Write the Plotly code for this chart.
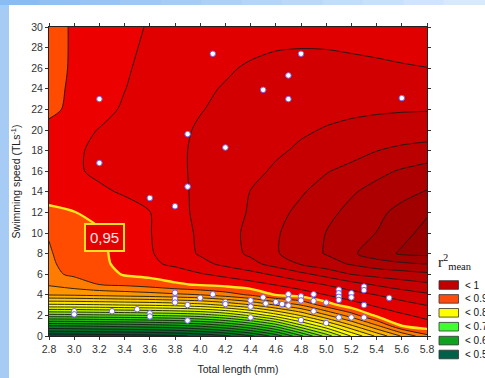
import numpy as np
import plotly.graph_objects as go

# ---------------- data ----------------
total_length_mm = [2.8, 3.0, 3.2, 3.4, 3.6, 3.8, 4.0, 4.2, 4.4, 4.6, 4.8, 5.0, 5.2, 5.4, 5.6, 5.8]
swimming_speed = [0, 1, 2, 3, 4, 5, 6, 7, 8, 10, 12, 14, 16, 18, 20, 22, 24, 26, 28, 30]

# r2 mean, one row per swimming speed, one column per total length
r2_mean = [
    [0.505, 0.508, 0.510, 0.512, 0.515, 0.520, 0.530, 0.545, 0.570, 0.610, 0.670, 0.735, 0.802, 0.855, 0.902, 0.935],
    [0.6005, 0.6023, 0.6057, 0.6091, 0.6136, 0.6200, 0.6301, 0.6474, 0.6737, 0.7105, 0.7682, 0.8192, 0.8714, 0.9171, 0.9501, 0.9528],
    [0.7143, 0.7163, 0.7194, 0.7217, 0.7255, 0.7298, 0.7368, 0.7526, 0.7789, 0.8130, 0.8520, 0.8962, 0.9300, 0.9510, 0.9542, 0.9564],
    [0.8183, 0.8195, 0.8217, 0.8248, 0.8273, 0.8321, 0.8392, 0.8534, 0.8727, 0.9005, 0.9202, 0.9450, 0.9528, 0.9558, 0.9581, 0.9601],
    [0.9013, 0.9030, 0.9057, 0.9086, 0.9114, 0.9156, 0.9201, 0.9300, 0.9414, 0.9502, 0.9521, 0.9551, 0.9577, 0.9601, 0.9624, 0.9642],
    [0.9225, 0.9313, 0.9401, 0.9420, 0.9447, 0.9485, 0.9506, 0.9517, 0.9532, 0.9553, 0.9578, 0.9603, 0.9631, 0.9656, 0.9675, 0.9690],
    [0.9360, 0.9415, 0.9440, 0.9506, 0.9515, 0.9530, 0.9546, 0.9563, 0.9583, 0.9609, 0.9638, 0.9668, 0.9701, 0.9717, 0.9729, 0.9740],
    [0.9375, 0.9430, 0.9468, 0.9520, 0.9542, 0.9558, 0.9585, 0.9612, 0.9636, 0.9668, 0.9704, 0.9729, 0.9755, 0.9778, 0.9790, 0.9801],
    [0.9385, 0.9440, 0.9480, 0.9518, 0.9545, 0.9575, 0.9605, 0.9630, 0.9658, 0.9695, 0.9727, 0.9753, 0.9792, 0.9825, 0.9857, 0.9862],
    [0.9405, 0.9467, 0.9488, 0.9515, 0.9548, 0.9578, 0.9608, 0.9632, 0.9662, 0.9695, 0.9722, 0.9751, 0.9773, 0.9801, 0.9835, 0.9865],
    [0.9470, 0.9497, 0.9515, 0.9535, 0.9549, 0.9583, 0.9612, 0.9632, 0.9654, 0.9685, 0.9712, 0.9738, 0.9762, 0.9788, 0.9815, 0.9845],
    [0.9528, 0.9538, 0.9544, 0.9554, 0.9567, 0.9585, 0.9612, 0.9632, 0.9651, 0.9670, 0.9695, 0.9720, 0.9745, 0.9765, 0.9785, 0.9803],
    [0.9535, 0.9545, 0.9557, 0.9568, 0.9580, 0.9593, 0.9607, 0.9620, 0.9637, 0.9657, 0.9678, 0.9697, 0.9714, 0.9738, 0.9755, 0.9768],
    [0.9533, 0.9545, 0.9557, 0.9569, 0.9580, 0.9593, 0.9607, 0.9619, 0.9630, 0.9643, 0.9657, 0.9669, 0.9682, 0.9699, 0.9712, 0.9722],
    [0.9515, 0.9535, 0.9552, 0.9566, 0.9578, 0.9590, 0.9605, 0.9614, 0.9623, 0.9632, 0.9644, 0.9653, 0.9660, 0.9665, 0.9668, 0.9670],
    [0.9475, 0.9513, 0.9535, 0.9556, 0.9572, 0.9587, 0.9598, 0.9609, 0.9618, 0.9626, 0.9633, 0.9638, 0.9642, 0.9645, 0.9647, 0.9648],
    [0.9465, 0.9510, 0.9530, 0.9549, 0.9567, 0.9582, 0.9593, 0.9603, 0.9613, 0.9620, 0.9627, 0.9632, 0.9635, 0.9637, 0.9638, 0.9638],
    [0.9455, 0.9508, 0.9527, 0.9545, 0.9562, 0.9575, 0.9586, 0.9595, 0.9605, 0.9615, 0.9620, 0.9620, 0.9615, 0.9610, 0.9605, 0.9601],
    [0.9450, 0.9508, 0.9525, 0.9542, 0.9557, 0.9568, 0.9578, 0.9586, 0.9592, 0.9597, 0.9599, 0.9598, 0.9594, 0.9590, 0.9585, 0.9580],
    [0.9450, 0.9508, 0.9525, 0.9540, 0.9553, 0.9562, 0.9570, 0.9575, 0.9580, 0.9585, 0.9588, 0.9588, 0.9585, 0.9580, 0.9578, 0.9575],
]

contour_levels = [0.525, 0.55, 0.575, 0.6, 0.625, 0.65, 0.675, 0.7, 0.725, 0.75, 0.775, 0.8,
                  0.825, 0.85, 0.875, 0.9, 0.92, 0.94, 0.95, 0.955, 0.96, 0.965, 0.97, 0.975,
                  0.98, 0.985]
highlight_level = 0.95
highlight_label = "0,95"

obs_length = [3.2, 3.2, 3.6, 3.8, 3.9, 3.9, 4.1, 4.2, 4.5, 4.7, 4.7, 4.8, 5.6,
              3.0, 3.0, 3.3, 3.5, 3.6, 3.6, 3.8, 3.8, 3.8, 3.9, 3.9, 4.0, 4.1, 4.2, 4.2,
              4.4, 4.4, 4.4, 4.5, 4.52, 4.6, 4.65, 4.7, 4.7, 4.7, 4.8, 4.8, 4.8,
              4.9, 4.9, 4.9, 5.0, 5.0, 5.1, 5.1, 5.1, 5.1, 5.1, 5.2, 5.2, 5.2,
              5.3, 5.3, 5.3, 5.3, 5.5]
obs_speed = [23.0, 16.8, 13.4, 12.6, 14.5, 19.6, 27.4, 18.3, 23.9, 25.3, 23.0, 27.4, 23.1,
             2.4, 2.1, 2.4, 2.6, 2.2, 1.9, 4.2, 3.6, 3.25, 3.0, 1.5, 3.7, 4.05, 3.3, 3.1,
             3.45, 2.85, 1.8, 3.75, 3.15, 3.3, 3.1, 4.05, 3.55, 2.95, 3.85, 3.45, 1.55,
             4.05, 3.4, 2.4, 3.25, 1.25, 4.5, 4.15, 3.8, 3.5, 1.8, 4.15, 3.75, 1.8,
             4.8, 4.45, 3.0, 1.8, 3.7]

x_tick_vals = [2.8, 3.0, 3.2, 3.4, 3.6, 3.8, 4.0, 4.2, 4.4, 4.6, 4.8, 5.0, 5.2, 5.4, 5.6, 5.8]
x_tick_text = ["2.8", "3.0", "3.2", "3.4", "3.6", "3.8", "4.0", "4.2", "4.4", "4.6", "4.8",
               "5.0", "5.2", "5.4", "5.6", "5.8"]
y_tick_vals = [0, 2, 4, 6, 8, 10, 12, 14, 16, 18, 20, 22, 24, 26, 28, 30]

legend_labels = ["< 1", "< 0.9", "< 0.8", "< 0.7", "< 0.6", "< 0.5"]

# ---------------- styles ----------------
band_colors = ["#004a30", "#005a2a", "#006e24", "#00821c", "#0c9614", "#18a812", "#24bc12",
               "#38d014", "#58e018", "#88ea10", "#b8f408", "#e4fa00", "#ffff00", "#ffe600",
               "#ffca00", "#ffb000", "#ff9600", "#ff7c00", "#ff4c00", "#ec0000", "#e00000",
               "#d20000", "#c60000", "#ba0000", "#ae0000", "#a20000", "#980000"]
legend_colors = ["#c00000", "#ff4a10", "#ffff00", "#40ff30", "#12a020", "#006048"]
FONT = "Liberation Sans, Arial, sans-serif"

# map r2 onto contour-level index space (levels are not evenly spaced)
lev = np.array(contour_levels)
N = len(lev)
ext_v = np.concatenate([[lev[0] - 0.025], lev, [lev[-1] + 0.005]])
ext_i = np.concatenate([[-1.0], np.arange(N, dtype=float), [float(N)]])
zi = np.interp(np.array(r2_mean), ext_v, ext_i) + 1.0   # levels -> 1..N
hi_idx = float(np.interp(highlight_level, ext_v, ext_i)) + 1.0

colorscale = []
for k, c in enumerate(band_colors):
    colorscale.append([max(0.0, (k - 0.45) / N), c])
    colorscale.append([min(1.0, (k + 0.45) / N), c])

fig = go.Figure()
fig.add_trace(go.Contour(
    x=total_length_mm, y=swimming_speed, z=zi,
    autocontour=False,
    contours=dict(start=1, end=N, size=1, coloring="fill", showlines=True),
    colorscale=colorscale, showscale=False,
    line=dict(color="#1a1a1a", width=0.9, smoothing=0.8),
    hoverinfo="skip",
))
n_low = swimming_speed.index(14) + 1
fig.add_trace(go.Contour(
    x=total_length_mm, y=swimming_speed[:n_low], z=zi[:n_low],
    autocontour=False,
    contours=dict(start=hi_idx, end=hi_idx, size=1, coloring="none"),
    line=dict(color="#ffe81a", width=2.4, smoothing=0.8),
    showscale=False, hoverinfo="skip",
))
fig.add_trace(go.Scatter(
    x=obs_length, y=obs_speed, mode="markers",
    marker=dict(size=5.5, color="white", line=dict(color="#7466ee", width=1.0)),
    hoverinfo="skip",
))

W, H = 485, 378
L, R, T, B = 49, 58, 27, 42
pw, ph = W - L - R, H - T - B


def px_x(p):
    return (p - L) / pw


def px_y(p):
    return (H - B - p) / ph


shapes = [
    dict(type="rect", xref="paper", yref="paper", x0=px_x(9), x1=px_x(W + 2),
         y0=px_y(H + 2), y1=px_y(5), fillcolor="white", line=dict(width=0), layer="below"),
]
# top gradient strip
nseg = 12
c0 = np.array([0x8a, 0xbc, 0xf4])
c1 = np.array([0xd8, 0xe9, 0xfc])
for i in range(nseg):
    c = (c0 + (c1 - c0) * i / (nseg - 1)).astype(int)
    shapes.append(dict(type="rect", xref="paper", yref="paper",
                       x0=px_x(W * i / nseg - 1), x1=px_x(W * (i + 1) / nseg + 1),
                       y0=px_y(5), y1=px_y(-2),
                       fillcolor="rgb(%d,%d,%d)" % tuple(c), line=dict(width=0), layer="below"))

annotations = []
for k, (lab, col) in enumerate(zip(legend_labels, legend_colors)):
    top = 280.7 + 13.9 * k
    shapes.append(dict(type="rect", xref="paper", yref="paper",
                       x0=px_x(439), x1=px_x(458.5), y0=px_y(top + 8.6), y1=px_y(top),
                       fillcolor=col, line=dict(color="#333333", width=0.8)))
    annotations.append(dict(xref="paper", yref="paper", x=px_x(463), y=px_y(top + 4.3),
                            xanchor="left", yanchor="middle", showarrow=False, text=lab,
                            font=dict(family=FONT, size=10, color="#111111")))
annotations.append(dict(xref="paper", yref="paper", x=px_x(436), y=px_y(262),
                        xanchor="left", yanchor="middle", showarrow=False,
                        text="r<sup>2</sup><sub>mean</sub>",
                        font=dict(family="Liberation Serif, Times New Roman, serif", size=15,
                                  color="#111111")))
annotations.append(dict(xref="x", yref="y", x=3.2365, y=9.56, showarrow=False,
                        text=highlight_label, bgcolor="#e50000", bordercolor="#ffe020",
                        borderwidth=2, borderpad=4,
                        font=dict(family=FONT, size=15, color="#ffe6e6")))

fig.update_layout(
    width=W, height=H, margin=dict(l=L, r=R, t=T, b=B, autoexpand=False),
    paper_bgcolor="#a6cbf5", plot_bgcolor="white", showlegend=False,
    font=dict(family=FONT, size=10.5, color="#333333"),
    shapes=shapes, annotations=annotations,
    xaxis=dict(range=[2.8, 5.8], tickvals=x_tick_vals, ticktext=x_tick_text,
               ticks="outside", ticklen=3, tickcolor="#333", showline=True, linecolor="#222",
               linewidth=1, mirror="ticks", showgrid=False, zeroline=False,
               tickfont=dict(family=FONT, size=10.5, color="#333333"),
               title=dict(text="Total length (mm)", standoff=12,
                          font=dict(family=FONT, size=10.5, color="#222222"))),
    yaxis=dict(range=[0, 30], tickvals=y_tick_vals,
               ticks="outside", ticklen=3, tickcolor="#333", showline=True, linecolor="#222",
               linewidth=1, mirror="ticks", showgrid=False, zeroline=False,
               tickfont=dict(family=FONT, size=10.5, color="#333333"),
               title=dict(text="Swimming speed (TLs<sup>-1</sup>)", standoff=8,
                          font=dict(family=FONT, size=10.5, color="#222222"))),
)

fig.write_html("out.html", config={"displayModeBar": False},
               post_script="document.body.style.margin='0px';document.body.style.overflow='hidden';")
